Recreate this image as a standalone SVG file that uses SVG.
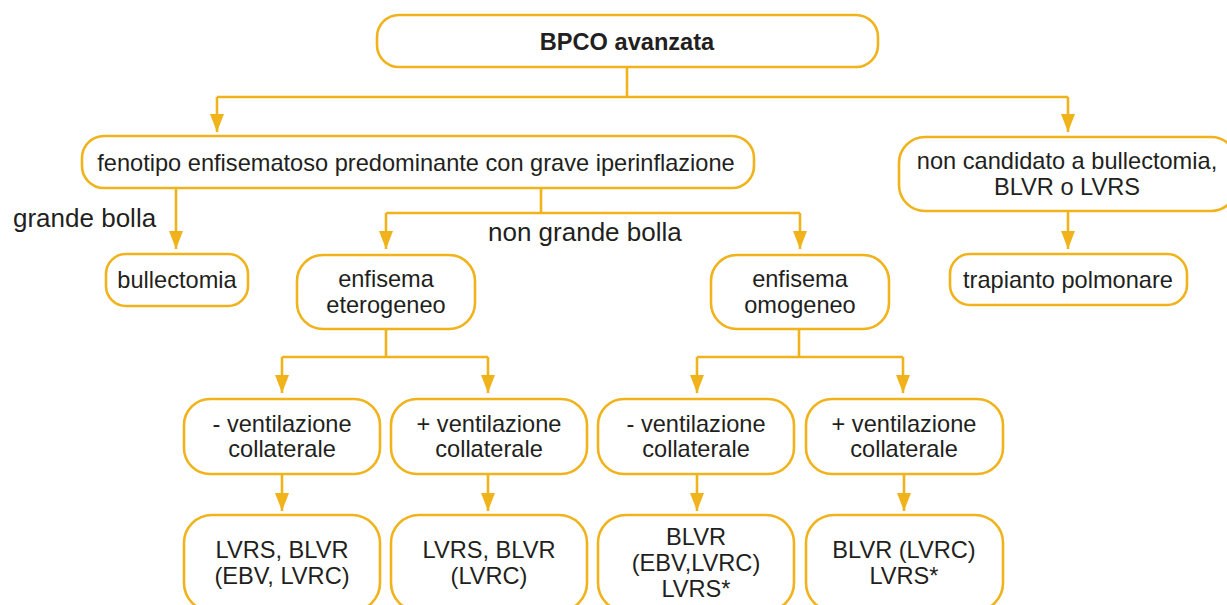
<svg xmlns="http://www.w3.org/2000/svg" width="1227" height="605" viewBox="0 0 1227 605">
<style>
.box{fill:#fff;stroke:#F0B31C;stroke-width:2.6}
.ln{fill:none;stroke:#F0B31C;stroke-width:2.6}
.t{font-family:"Liberation Sans",Arial,sans-serif;font-size:23.6px;fill:#231f20;text-anchor:middle}
.b{font-weight:bold}
.lab{font-family:"Liberation Sans",Arial,sans-serif;font-size:26px;fill:#231f20}
</style>
<defs>
<marker id="ah" markerUnits="userSpaceOnUse" viewBox="0 -7 18 14" markerWidth="18" markerHeight="14" refX="18" refY="0" orient="auto">
<path d="M0,-7 L18,0 L0,7 Z" fill="#F0B31C"/>
</marker>
</defs>
<rect width="1227" height="605" fill="#fff"/>
<g id="connectors">
<path class="ln" d="M627,67 V97"/>
<path class="ln" d="M217,97 H1068"/>
<path class="ln" d="M217,97 V132" marker-end="url(#ah)"/>
<path class="ln" d="M1068,97 V132" marker-end="url(#ah)"/>
<path class="ln" d="M176,188 V249" marker-end="url(#ah)"/>
<path class="ln" d="M541,188 V213 M386,213 H800"/>
<path class="ln" d="M386,213 V249" marker-end="url(#ah)"/>
<path class="ln" d="M800,213 V249" marker-end="url(#ah)"/>
<path class="ln" d="M1068,211 V249" marker-end="url(#ah)"/>
<path class="ln" d="M386,329 V357 M282,357 H488"/>
<path class="ln" d="M282,357 V393" marker-end="url(#ah)"/>
<path class="ln" d="M488,357 V393" marker-end="url(#ah)"/>
<path class="ln" d="M799,329 V357 M697,357 H903"/>
<path class="ln" d="M697,357 V393" marker-end="url(#ah)"/>
<path class="ln" d="M903,357 V393" marker-end="url(#ah)"/>
<path class="ln" d="M282,474 V511" marker-end="url(#ah)"/>
<path class="ln" d="M488,474 V511" marker-end="url(#ah)"/>
<path class="ln" d="M697,474 V511" marker-end="url(#ah)"/>
<path class="ln" d="M904,474 V511" marker-end="url(#ah)"/>
</g>
<g id="labels">
<text class="lab" x="13" y="227">grande bolla</text>
<text class="lab" x="488" y="241">non grande bolla</text>
</g>
<g id="n-bpco"><rect class="box" x="377" y="15" width="501" height="52" rx="22"/><text class="t b" x="627" y="50">BPCO avanzata</text></g>
<g id="n-fenotipo"><rect class="box" x="82" y="136" width="672" height="52" rx="22"/><text class="t" x="416" y="171">fenotipo enfisematoso predominante con grave iperinflazione</text></g>
<g id="n-noncand"><rect class="box" x="899" y="137" width="338" height="74" rx="26"/><text class="t" x="1067" y="169">non candidato a bullectomia,</text><text class="t" x="1067" y="195">BLVR o LVRS</text></g>
<g id="n-bullectomia"><rect class="box" x="106" y="254" width="142" height="52" rx="20"/><text class="t" x="177" y="288">bullectomia</text></g>
<g id="n-eterogeneo"><rect class="box" x="297" y="255" width="178" height="74" rx="26"/><text class="t" x="386" y="287">enfisema</text><text class="t" x="386" y="313">eterogeneo</text></g>
<g id="n-omogeneo"><rect class="box" x="711" y="255" width="178" height="74" rx="26"/><text class="t" x="800" y="287">enfisema</text><text class="t" x="800" y="313">omogeneo</text></g>
<g id="n-trapianto"><rect class="box" x="950" y="254" width="237" height="51" rx="20"/><text class="t" x="1068" y="288">trapianto polmonare</text></g>
<g id="n-et-minus"><rect class="box" x="184" y="399" width="196" height="75" rx="26"/><text class="t" x="282" y="432">- ventilazione</text><text class="t" x="282" y="457">collaterale</text></g>
<g id="n-et-plus"><rect class="box" x="391" y="399" width="196" height="75" rx="26"/><text class="t" x="489" y="432">+ ventilazione</text><text class="t" x="489" y="457">collaterale</text></g>
<g id="n-om-minus"><rect class="box" x="598" y="399" width="196" height="75" rx="26"/><text class="t" x="696" y="432">- ventilazione</text><text class="t" x="696" y="457">collaterale</text></g>
<g id="n-om-plus"><rect class="box" x="806" y="399" width="197" height="75" rx="26"/><text class="t" x="904" y="432">+ ventilazione</text><text class="t" x="904" y="457">collaterale</text></g>
<g id="n-r1"><rect class="box" x="184" y="515" width="196" height="96" rx="28"/><text class="t" x="282" y="558">LVRS, BLVR</text><text class="t" x="282" y="584">(EBV, LVRC)</text></g>
<g id="n-r2"><rect class="box" x="391" y="515" width="196" height="96" rx="28"/><text class="t" x="489" y="558">LVRS, BLVR</text><text class="t" x="489" y="584">(LVRC)</text></g>
<g id="n-r3"><rect class="box" x="598" y="515" width="196" height="96" rx="28"/><text class="t" x="696" y="545">BLVR</text><text class="t" x="696" y="571">(EBV,LVRC)</text><text class="t" x="696" y="597">LVRS*</text></g>
<g id="n-r4"><rect class="box" x="806" y="515" width="197" height="96" rx="28"/><text class="t" x="904" y="558">BLVR (LVRC)</text><text class="t" x="904" y="584">LVRS*</text></g>
</svg>
